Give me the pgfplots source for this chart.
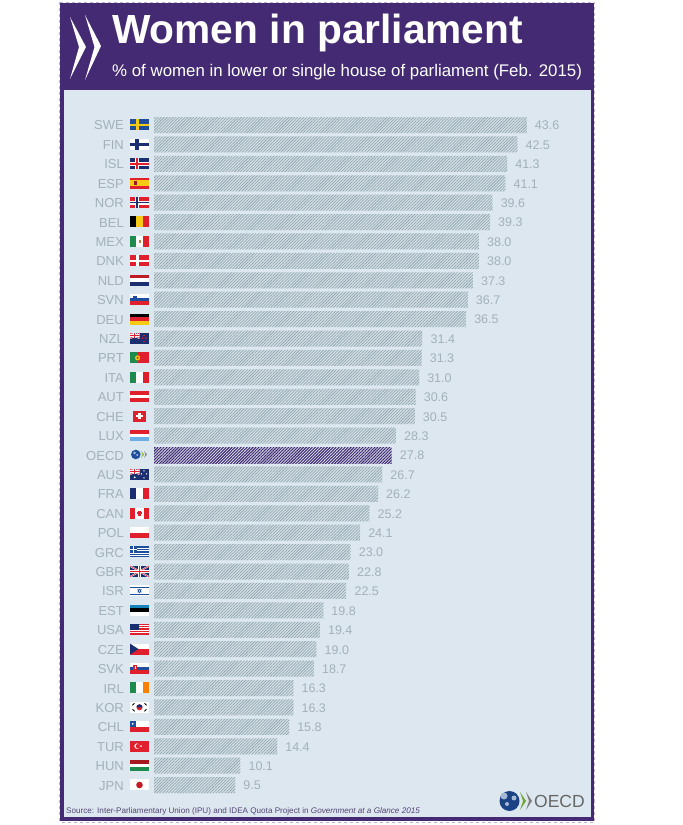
\documentclass[border=0pt]{standalone}
\usepackage{pgfplots}
\pgfplotsset{compat=1.18}
\usepackage{fontspec}
\setmainfont{Liberation Sans}
\usetikzlibrary{patterns.meta}
\definecolor{oecdpurple}{HTML}{432A72}
\definecolor{panel}{HTML}{DCE7EF}
\definecolor{labgray}{HTML}{A2B1BB}
\definecolor{barbase}{HTML}{D6E1E7}
\definecolor{barline}{HTML}{92A7B2}
\definecolor{fblue}{HTML}{1F4E9C}
\definecolor{fnavy}{HTML}{1B2F70}
\definecolor{fred}{HTML}{E0202C}
\definecolor{fyellow}{HTML}{F6C915}
\definecolor{fgreen}{HTML}{1E8A4C}
\newcommand\R[5]{\fill[#1] (#2,#3) rectangle (#4,#5);}
\newcommand\HS[3]{\R{#1}{0}{#2}{19}{#3}}
\newcommand\VS[3]{\R{#1}{#2}{0}{#3}{11}}
\newcommand\UJ[2]{% union jack in a w x h box
  \begin{scope}
  \clip (0,0) rectangle (#1,#2);
  \fill[fnavy] (0,0) rectangle (#1,#2);
  \draw[white,line width=1.6pt] (0,0)--(#1,#2) (0,#2)--(#1,0);
  \draw[fred,line width=.6pt] (0,0)--(#1,#2) (0,#2)--(#1,0);
  \draw[white,line width=2.6pt] (#1/2,0)--(#1/2,#2) (0,#2/2)--(#1,#2/2);
  \draw[fred,line width=1.4pt] (#1/2,0)--(#1/2,#2) (0,#2/2)--(#1,#2/2);
  \end{scope}}
\newcommand\Flag[2]{\begin{scope}[shift={(130,#1-5.5)}]#2\end{scope}}
\pgfplotstableread{
r v
1 43.6
2 42.5
3 41.3
4 41.1
5 39.6
6 39.3
7 38.0
8 38.0
9 37.3
10 36.7
11 36.5
12 31.4
13 31.3
14 31.0
15 30.6
16 30.5
17 28.3
19 26.7
20 26.2
21 25.2
22 24.1
23 23.0
24 22.8
25 22.5
26 19.8
27 19.4
28 19.0
29 18.7
30 16.3
31 16.3
32 15.8
33 14.4
34 10.1
35 9.5
}\countries
\pgfplotstableread{
r v
18 27.8
}\oecdrow
\begin{document}
\begin{tikzpicture}
\begin{scope}[x=1pt,y=-1pt,yshift=825pt]
\fill[white] (0,0) rectangle (683,825);
\draw[oecdpurple!35,dashed,line width=.5pt] (59.5,2.5) rectangle (594.5,822);
\fill[oecdpurple] (60,3) rectangle (594,821);
\fill[panel] (63.5,90) rectangle (591,817);
\fill[white] (70,17)--(86,47)--(70,79)--(79,47)--cycle;
\fill[white] (85,15)--(101,46)--(85,80)--(94.5,47)--cycle;
\node[anchor=base west,inner sep=0pt,text=white,font=\fontsize{40.7}{44}\selectfont\bfseries] at (112,44) {Women in parliament};
\node[anchor=base west,inner sep=0pt,text=white,font=\fontsize{16.85}{20}\selectfont] at (112,77) {\% of women in lower or single house of parliament (Feb. 2015)};
\node[anchor=base west,inner sep=0pt,text=oecdpurple!70!gray,font=\fontsize{8.13}{10}\selectfont] at (66,814) {Source: Inter-Parliamentary Union (IPU) and IDEA Quota Project in \textit{Government at a Glance 2015}};
% logo
\fill[fblue!85!black] (509.5,801) circle (10);
\fill[panel!70!fblue] (504,796) circle (3.5) (514,798) circle (2.5) (507,804) circle (2);
\fill[fgreen!60!fyellow] (520,792)--(526,801)--(520,810)--(523,801)--cycle;
\fill[gray] (526,792)--(532,801)--(526,810)--(529,801)--cycle;
\node[anchor=base west,inner sep=0pt,text=black!60,font=\fontsize{17.5}{20}\selectfont] at (534,808) {OECD};
\end{scope}
\begin{axis}[
  at={(154pt,30.2pt)}, anchor=south west, scale only axis,
  width=427.5pt, height=679.5pt,
  xmin=0, xmax=50, ymin=0.5, ymax=35.5, y dir=reverse,
  axis line style={draw=none}, major tick length=0pt,
  xtick=\empty,
  ytick={1,...,35},
  yticklabels={SWE,FIN,ISL,ESP,NOR,BEL,MEX,DNK,NLD,SVN,DEU,NZL,PRT,ITA,AUT,CHE,LUX,OECD,AUS,FRA,CAN,POL,GRC,GBR,ISR,EST,USA,CZE,SVK,IRL,KOR,CHL,TUR,HUN,JPN},
  yticklabel style={font=\fontsize{13}{14}\selectfont, text=labgray, xshift=-30pt, yshift=-.5pt, inner sep=0pt},
  xbar, bar width=16pt, bar shift=0pt,
  point meta=x,
  /pgf/number format/.cd, fixed, fixed zerofill, precision=1, assume math mode=true,
  /pgfplots/.cd,
  nodes near coords style={font=\fontsize{12.5}{14}\selectfont, text=labgray, inner sep=0pt, xshift=8pt, yshift=-.5pt, anchor=west},
]
\addplot[draw=none, fill=barbase] table[x=v,y=r] {\countries};
\addplot[draw=none, pattern={Lines[angle=45,distance=2.1pt,line width=.75pt]}, pattern color=barline, nodes near coords] table[x=v,y=r] {\countries};
\addplot[draw=none, fill=panel] table[x=v,y=r] {\oecdrow};
\addplot[draw=none, pattern={Lines[angle=45,distance=2.1pt,line width=1.1pt]}, pattern color=oecdpurple, nodes near coords] table[x=v,y=r] {\oecdrow};
\end{axis}
\begin{scope}[x=1pt,y=-1pt,yshift=825pt]
\Flag{125}{\HS{fblue}{0}{11}\HS{fyellow}{4.3}{6.7}\VS{fyellow}{5.5}{8.5}}
\Flag{144.4}{\HS{white}{0}{11}\HS{fnavy}{4}{7}\VS{fnavy}{5}{8.5}}
\Flag{163.8}{\HS{fnavy}{0}{11}\HS{white}{3.5}{7.5}\VS{white}{5}{9}\HS{fred}{4.7}{6.3}\VS{fred}{6.2}{7.8}}
\Flag{183.2}{\HS{fred}{0}{11}\HS{fyellow}{2.75}{8.25}\R{fred!70!black}{4}{3.8}{6.5}{7.2}}
\Flag{202.6}{\HS{fred}{0}{11}\HS{white}{3.5}{7.5}\VS{white}{5}{9}\HS{fnavy}{4.7}{6.3}\VS{fnavy}{6.2}{7.8}}
\Flag{222}{\VS{black}{0}{6.3}\VS{fyellow}{6.3}{12.7}\VS{fred}{12.7}{19}}
\Flag{241.5}{\VS{fgreen}{0}{6.3}\VS{white}{6.3}{12.7}\VS{fred}{12.7}{19}\R{brown}{8.5}{4}{10.5}{7}}
\Flag{260.9}{\HS{fred}{0}{11}\HS{white}{4.3}{6.7}\VS{white}{5.5}{8.5}}
\Flag{280.3}{\HS{fred!85!black}{0}{3.7}\HS{white}{3.7}{7.3}\HS{fnavy}{7.3}{11}}
\Flag{299.7}{\HS{white}{0}{3.7}\HS{fblue}{3.7}{7.3}\HS{fred}{7.3}{11}\R{fblue}{3}{1.5}{6.5}{6}}
\Flag{319.1}{\HS{black}{0}{3.7}\HS{fred}{3.7}{7.3}\HS{fyellow}{7.3}{11}}
\Flag{338.5}{\HS{fnavy}{0}{11}\UJ{9.5}{5.5}\fill[fred] (14,2.5) circle (.8) (12.5,5) circle (.8) (16,5) circle (.8) (14,8.5) circle (.8);}
\Flag{357.9}{\HS{fred}{0}{11}\VS{fgreen}{0}{7.6}\fill[fyellow] (7.6,5.5) circle (2.6);\fill[fred] (7.6,5.5) circle (1.2);}
\Flag{377.3}{\VS{fgreen}{0}{6.3}\VS{white}{6.3}{12.7}\VS{fred}{12.7}{19}}
\Flag{396.7}{\HS{fred}{0}{3.7}\HS{white}{3.7}{7.3}\HS{fred}{7.3}{11}}
\Flag{416.2}{\R{fred}{3}{0}{16}{11}\R{white}{8.3}{2.2}{10.7}{8.8}\R{white}{6}{4.3}{13}{6.7}}
\Flag{435.6}{\HS{fred}{0}{3.7}\HS{white}{3.7}{7.3}\HS{cyan!70!blue!60}{7.3}{11}}
% OECD small logo
\begin{scope}[shift={(130,449)}]
\fill[fblue] (5.8,5.5) circle (4.8);\fill[panel!70!fblue] (4.6,4) circle (1.4) (7.3,6) circle (1.1);
\fill[fgreen!50!fyellow] (11,2)--(14,5.5)--(11,9)--(12.5,5.5)--cycle;
\fill[gray] (14,2)--(17,5.5)--(14,9)--(15.5,5.5)--cycle;
\end{scope}
\Flag{474.4}{\HS{fnavy}{0}{11}\UJ{9.5}{5.5}\fill[white] (14,2) circle (.7) (11.5,5) circle (.7) (16.5,5) circle (.7) (14,9) circle (.7) (4.7,8.5) circle (1);}
\Flag{493.8}{\VS{fnavy}{0}{6.3}\VS{white}{6.3}{12.7}\VS{fred}{12.7}{19}}
\Flag{513.2}{\HS{white}{0}{11}\VS{fred}{0}{4.8}\VS{fred}{14.2}{19}\R{fred}{8.3}{3}{10.7}{8}\R{fred}{7}{4.5}{12}{6.5}}
\Flag{532.6}{\HS{white}{0}{5.5}\HS{fred}{5.5}{11}}
\Flag{552}{\HS{fblue}{0}{1.2}\HS{white}{1.2}{2.4}\HS{fblue}{2.4}{3.7}\HS{white}{3.7}{4.9}\HS{fblue}{4.9}{6.1}\HS{white}{6.1}{7.3}\HS{fblue}{7.3}{8.6}\HS{white}{8.6}{9.8}\HS{fblue}{9.8}{11}\R{fblue}{0}{0}{7}{6.1}\R{white}{2.8}{0}{4.2}{6.1}\R{white}{0}{2.4}{7}{3.7}}
\Flag{571.4}{\UJ{19}{11}}
\Flag{590.9}{\HS{white}{0}{11}\HS{fblue}{1.2}{2.6}\HS{fblue}{8.4}{9.8}\draw[fblue,line width=.5pt] (9.5,3.7)--(11.3,6.7)--(7.7,6.7)--cycle (9.5,7.3)--(11.3,4.3)--(7.7,4.3)--cycle;}
\Flag{610.3}{\HS{fblue!70!cyan}{0}{3.7}\HS{black}{3.7}{7.3}\HS{white}{7.3}{11}}
\Flag{629.7}{\HS{white}{0}{11}\HS{fred}{0}{.85}\HS{fred}{1.7}{2.55}\HS{fred}{3.4}{4.25}\HS{fred}{5.1}{5.95}\HS{fred}{6.8}{7.65}\HS{fred}{8.5}{9.35}\HS{fred}{10.2}{11}\R{fnavy}{0}{0}{8.5}{6}}
\Flag{649.1}{\HS{white}{0}{5.5}\HS{fred}{5.5}{11}\fill[fnavy] (0,0)--(8.5,5.5)--(0,11)--cycle;}
\Flag{668.5}{\HS{white}{0}{3.7}\HS{fblue}{3.7}{7.3}\HS{fred}{7.3}{11}\R{fred}{3}{2}{7}{8}\R{white}{4.5}{3}{5.5}{6.5}}
\Flag{687.9}{\VS{fgreen}{0}{6.3}\VS{white}{6.3}{12.7}\VS{orange}{12.7}{19}}
\Flag{707.3}{\HS{white}{0}{11}\fill[fred] (9.5,5.5) circle (3);\fill[fnavy] (9.5,5.5) ++(-3,0) arc (180:360:3)--cycle;\draw[black,line width=.9pt] (2.5,3.5)--(4.5,1.5) (14.5,1.5)--(16.5,3.5) (2.5,7.5)--(4.5,9.5) (14.5,9.5)--(16.5,7.5);}
\Flag{726.7}{\HS{white}{0}{5.5}\HS{fred}{5.5}{11}\R{fblue}{0}{0}{5.5}{5.5}\fill[white] (2.75,2.75) circle (1);}
\Flag{746.1}{\HS{fred}{0}{11}\fill[white] (7,5.5) circle (2.7);\fill[fred] (7.8,5.5) circle (2.1);\fill[white] (11,5.5) circle (.9);}
\Flag{765.6}{\HS{fred!75!black}{0}{3.7}\HS{white}{3.7}{7.3}\HS{fgreen}{7.3}{11}}
\Flag{785}{\HS{white}{0}{11}\fill[fred!85!black] (9.5,5.5) circle (3.3);}
\end{scope}
\end{tikzpicture}
\end{document}
